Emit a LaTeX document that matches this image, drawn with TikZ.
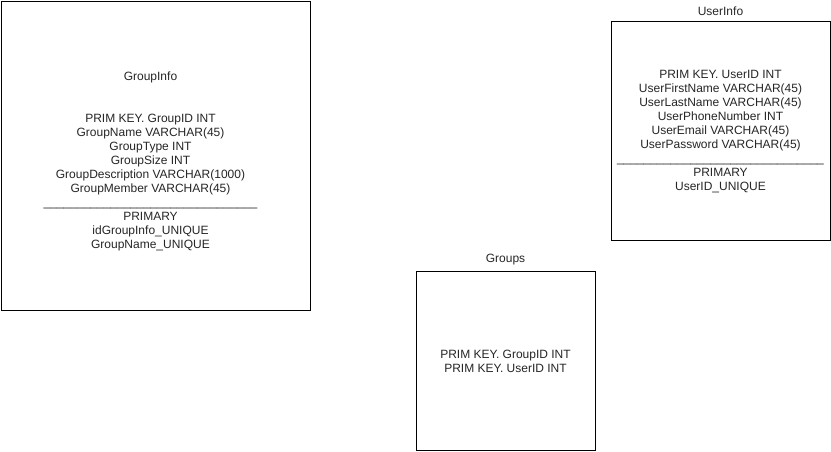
\documentclass[tikz,border=0pt]{standalone}
\usepackage{fontspec}
\setmainfont{Liberation Sans}
\begin{document}
\begin{tikzpicture}[x=1pt,y=-1pt,
  tbl/.style={draw=black,line width=1pt,fill=white,inner sep=0pt,anchor=north west},
  txt/.style={align=center,inner sep=0pt,font=\fontsize{12}{14}\selectfont,text=black!85},
  ttl/.style={inner sep=0pt,anchor=south,font=\fontsize{12}{14}\selectfont,text=black!85}]
\useasboundingbox (0,0) rectangle (831,451);
% GroupInfo
\node[tbl,minimum width=309pt,minimum height=309pt] (gi) at (0.5,0.5) {};
\node[txt] (gitxt) at ([xshift=-5pt,yshift=-6pt]gi.center) {GroupInfo\\[28pt]
PRIM KEY. GroupID INT\\
GroupName VARCHAR(45)\\
GroupType INT\\
GroupSize INT\\
GroupDescription VARCHAR(1000)\\
GroupMember VARCHAR(45)\\
\_\_\_\_\_\_\_\_\_\_\_\_\_\_\_\_\_\_\_\_\_\_\_\_\_\_\_\_\_\_\_\_\\
PRIMARY\\
idGroupInfo\_UNIQUE\\
GroupName\_UNIQUE};
% UserInfo
\node[tbl,minimum width=219pt,minimum height=219pt] (ui) at (610.5,20.5) {};
\node[ttl] (uittl) at ([yshift=5pt]ui.north) {UserInfo};
\node[txt] (uitxt) at ([yshift=-1.5pt]ui.center) {PRIM KEY. UserID INT\\
UserFirstName VARCHAR(45)\\
UserLastName VARCHAR(45)\\
UserPhoneNumber INT\\
UserEmail VARCHAR(45)\\
UserPassword VARCHAR(45)\\
\_\_\_\_\_\_\_\_\_\_\_\_\_\_\_\_\_\_\_\_\_\_\_\_\_\_\_\_\_\_\_\\
PRIMARY\\
UserID\_UNIQUE};
% Groups
\node[tbl,minimum width=179pt,minimum height=179pt] (gr) at (415.5,270.5) {};
\node[ttl] (grttl) at ([yshift=5pt]gr.north) {Groups};
\node[txt] (grtxt) at ([yshift=-1pt]gr.center) {PRIM KEY. GroupID INT\\
PRIM KEY. UserID INT};
\end{tikzpicture}
\end{document}
